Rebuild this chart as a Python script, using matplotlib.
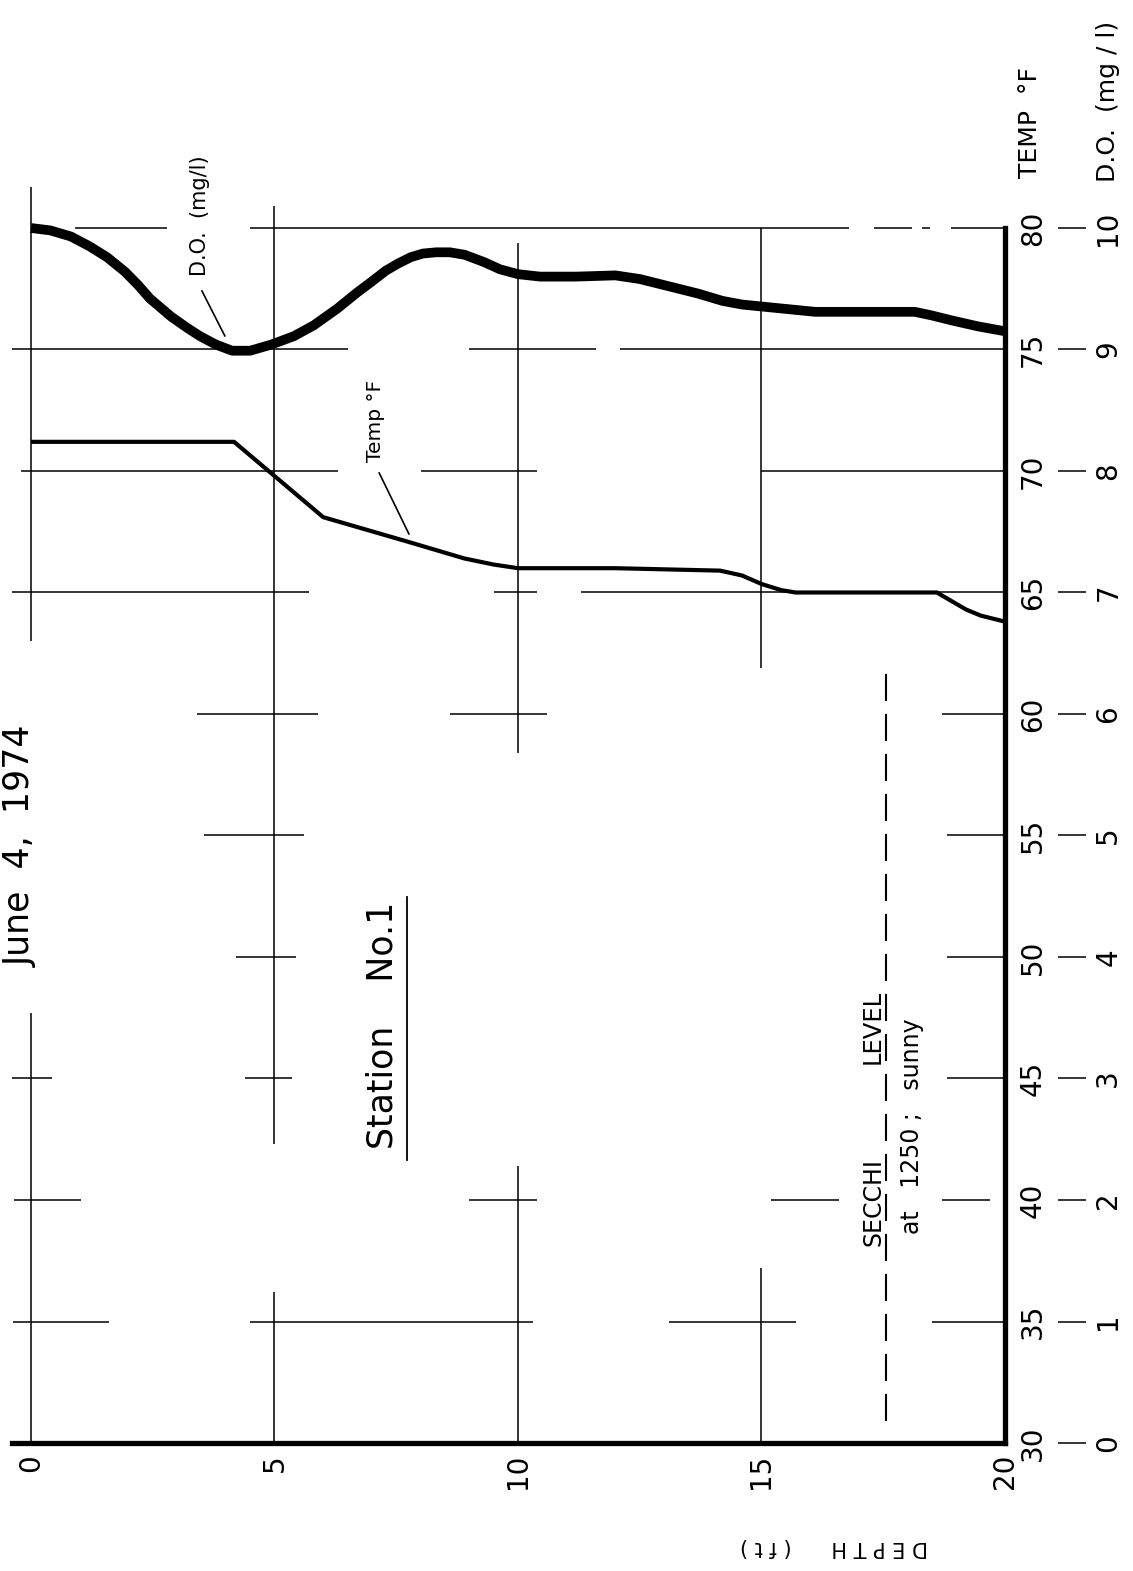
import matplotlib
matplotlib.use("Agg")
import matplotlib.pyplot as plt

# ---------------- data ----------------
do_depth = [0.0, 0.4, 0.82, 1.2, 1.56, 1.93, 2.2, 2.44, 2.88, 3.2, 3.47, 3.8,
            4.13, 4.5, 4.93, 5.4, 5.81, 6.3, 6.7, 7.0, 7.29, 7.55, 7.8, 8.05,
            8.32, 8.6, 8.9, 9.3, 9.63, 10.0, 10.45, 11.2, 12.0, 12.5, 13.1,
            13.7, 14.2, 14.6, 15.1, 15.6, 16.1, 17.0, 18.15, 18.5, 18.9,
            19.45, 20.0]
do_mgl = [10.0, 9.98, 9.93, 9.85, 9.76, 9.64, 9.53, 9.42, 9.27, 9.18, 9.11, 9.04,
          8.99, 8.99, 9.04, 9.11, 9.20, 9.34, 9.47, 9.56, 9.65, 9.71, 9.76, 9.79,
          9.80, 9.80, 9.78, 9.72, 9.66, 9.62, 9.60, 9.60, 9.61, 9.58, 9.52,
          9.46, 9.40, 9.37, 9.35, 9.33, 9.31, 9.31, 9.31, 9.28, 9.24,
          9.19, 9.15]

temp_depth = [0.0, 4.17, 6.0, 7.72, 8.9, 9.5, 10.0, 12.0, 14.15, 14.6, 15.0,
              15.4, 15.7, 18.6, 18.9, 19.2, 19.5, 20.0]
temp_f = [71.2, 71.2, 68.1, 67.1, 66.4, 66.15, 66.0, 66.0, 65.9, 65.7, 65.35,
          65.1, 65.0, 65.0, 64.65, 64.3, 64.05, 63.8]

depth_ticks = [0, 5, 10, 15, 20]
depth_labels = ["0", "5", "10", "15", "20"]
temp_ticks = [30, 35, 40, 45, 50, 55, 60, 65, 70, 75, 80]
do_ticks = [0, 1, 2, 3, 4, 5, 6, 7, 8, 9, 10]
secchi_depth = 17.55
secchi_range = (30.9, 61.9)

# partial grid (crosshair style) segments of the printed form
grid_h = {
    80: [(0.9, 2.8), (4.5, 16.8), (17.3, 18.1), (18.3, 18.45), (18.9, 20)],
    75: [(-0.4, 6.5), (9.0, 11.6), (12.1, 20)],
    70: [(-0.2, 6.3), (8.0, 10.4), (15.0, 20)],
    65: [(-0.4, 5.7), (9.5, 10.4), (11.3, 20)],
    60: [(3.4, 5.9), (8.6, 10.6), (18.7, 20)],
    55: [(3.55, 5.6), (18.8, 20)],
    50: [(4.2, 5.45), (18.8, 20)],
    45: [(-0.4, 0.43), (4.4, 5.35), (18.8, 20)],
    40: [(-0.35, 1.03), (9.0, 10.4), (15.2, 16.6), (18.7, 19.7)],
    35: [(-0.36, 1.6), (4.5, 10.3), (13.1, 15.7), (18.5, 20)],
}
grid_v = {
    0: [(63.0, 81.7), (30, 47.7)],
    5: [(42.3, 80.9), (30, 36.2)],
    10: [(58.4, 79.4), (30, 41.4)],
    15: [(61.9, 80.0), (30, 37.2)],
}

plt.rcParams['font.family'] = ['DejaVu Sans']

W, H = 1133, 1571
fig = plt.figure(figsize=(W / 100, H / 100), dpi=100)
fig.patch.set_facecolor("white")
ax = fig.add_axes([12 / W, 128 / H, 993 / W, 1215 / H])
ax.set_xlim(-0.39, 20)
ax.set_ylim(30, 80)
ax.set_facecolor("none")

for s in ("top", "left"):
    ax.spines[s].set_visible(False)
for s in ("bottom", "right"):
    ax.spines[s].set_linewidth(3.8)
    ax.spines[s].set_capstyle("projecting")

grid_kw = dict(color="black", lw=1.1, clip_on=False)
for t, segs in grid_h.items():
    for a, b in segs:
        ax.hlines(t, a, b, **grid_kw)
for d, segs in grid_v.items():
    for a, b in segs:
        ax.vlines(d, a, b, **grid_kw)

# secchi level dashed line
ax.vlines(secchi_depth, *secchi_range, color="black", lw=1.5,
          linestyles=[(0, (13, 6.2))], clip_on=False)

# data curves
ax.plot(temp_depth, temp_f, color="black", lw=3.0, solid_joinstyle="round",
        solid_capstyle="butt", clip_on=False)
do_as_temp = [v * 5 + 30 for v in do_mgl]
ax.plot(do_depth, do_as_temp, color="black", lw=7.0, solid_joinstyle="round",
        solid_capstyle="butt", clip_on=False)

# axes ticks
ax.set_xticks(depth_ticks)
ax.set_xticklabels(depth_labels)
ax.tick_params(axis="x", length=0, pad=8, labelsize=20, labelrotation=90)
ax.yaxis.tick_right()
ax.set_yticks(temp_ticks)
ax.set_yticklabels([str(t) for t in temp_ticks])
ax.tick_params(axis="y", length=0, pad=10, labelsize=20, labelrotation=90)
for lab in ax.get_yticklabels():
    lab.set_va("center")

sec = ax.secondary_yaxis(1.0816, functions=(lambda t: (t - 30) / 5,
                                            lambda d: d * 5 + 30))
for s in sec.spines.values():
    s.set_visible(False)
sec.set_yticks(do_ticks)
sec.set_yticklabels([str(v) for v in do_ticks])
sec.tick_params(axis="y", direction="in", length=20, width=1.1, pad=6,
                labelsize=20, labelrotation=90)
for lab in sec.get_yticklabels():
    lab.set_va("center")

# texts
ax.text(-0.205, 54.57, "June  4,  1974", rotation=90, fontsize=25,
        ha="center", va="center")
ax.text(7.21, 47.2, "Station    No.1", rotation=90, fontsize=25,
        ha="center", va="center")
ax.plot([7.72, 7.72], [41.65, 52.47], color="black", lw=1.3, clip_on=False)

ax.text(3.47, 80.49, "D.O.  (mg/l)", rotation=90, fontsize=15,
        ha="center", va="center")
ax.plot([3.51, 3.98], [77.41, 75.56], color="black", lw=1.2)
ax.text(7.08, 72.06, "Temp °F", rotation=90, fontsize=14.5,
        ha="center", va="center")
ax.plot([7.15, 7.76], [69.92, 67.41], color="black", lw=1.2)

ax.text(17.29, 39.92, "SECCHI", rotation=90, fontsize=17, ha="center", va="center")
ax.text(17.29, 47.12, "LEVEL", rotation=90, fontsize=17.5, ha="center", va="center")
ax.text(18.09, 43.05, "at   1250 ;   sunny", rotation=90, fontsize=17,
        ha="center", va="center")

ax.text(20.51, 84.36, "TEMP  °F", rotation=90, fontsize=18, ha="center", va="center")
ax.text(22.11, 85.19, "D.O.  (mg / l)", rotation=90, fontsize=18,
        ha="center", va="center")
ax.text(16.49, 25.72, "D E P T H      ( f t )", rotation=180, fontsize=15,
        ha="center", va="center")

fig.savefig("out.png", dpi=100, facecolor="white")
